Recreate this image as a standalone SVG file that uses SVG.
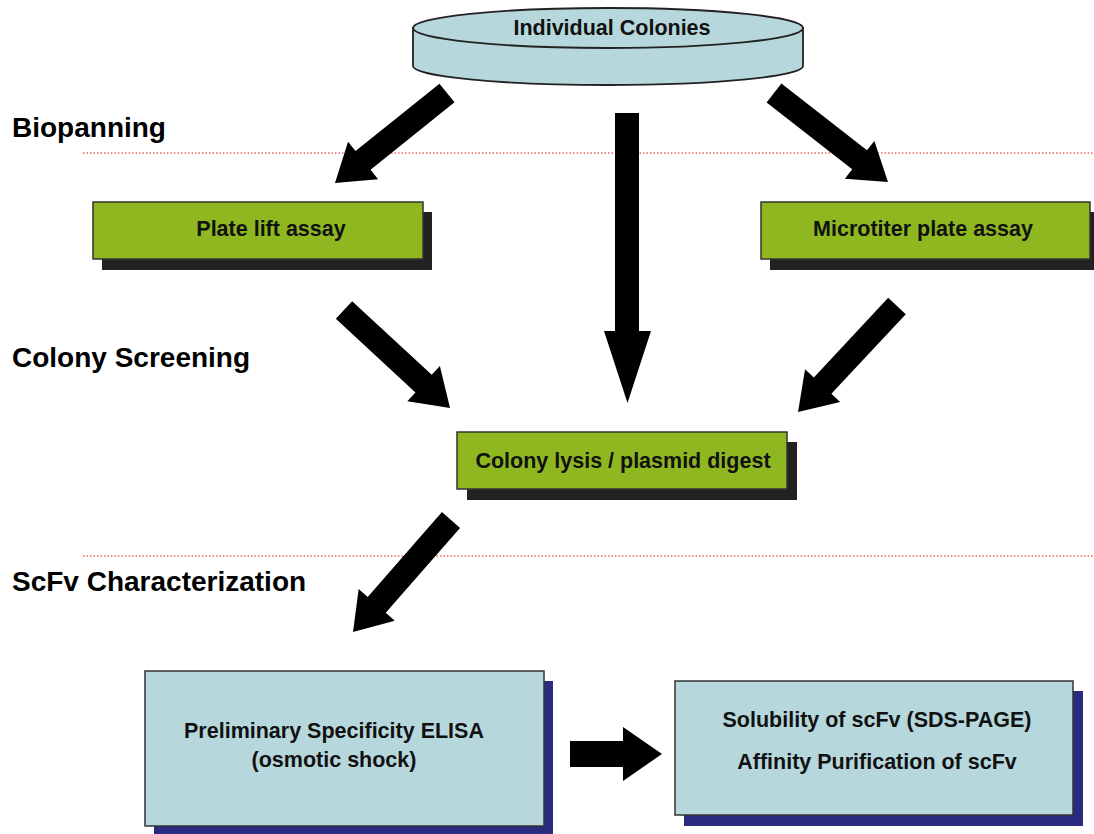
<svg xmlns="http://www.w3.org/2000/svg" width="1094" height="834" viewBox="0 0 1094 834">
<defs>
<style>
.lbl{font-family:"Liberation Sans",Arial,sans-serif;font-weight:bold;font-size:28px;fill:#000}
.nt{font-family:"Liberation Sans",Arial,sans-serif;font-weight:bold;font-size:21.5px;fill:#111;text-anchor:middle}
.green{fill:#8fb820;stroke:#333;stroke-width:1.5}
.gshadow{fill:#222}
.blue{fill:#b6d8dc;stroke:#333;stroke-width:1.5}
.bshadow{fill:#2a2a7e}
.sep{stroke:#e66;stroke-width:1.5;stroke-dasharray:1.5 2;fill:none}
.arrow{fill:#000}
</style>
</defs>
<rect width="1094" height="834" fill="#fff"/>
<g id="separators">
<line class="sep" x1="83" y1="153" x2="1094" y2="153"/>
<line class="sep" x1="83" y1="556" x2="1094" y2="556"/>
</g>
<g id="stage-labels">
<text class="lbl" x="12" y="137">Biopanning</text>
<text class="lbl" x="12" y="367">Colony Screening</text>
<text class="lbl" x="12" y="591">ScFv Characterization</text>
</g>
<g id="node-colonies">
<path d="M413,28 L413,66 A195,19 0 0 0 803,66 L803,28 Z" fill="#b6d8dc" stroke="#222" stroke-width="1.8"/>
<ellipse cx="608" cy="28" rx="195" ry="20" fill="#b6d8dc" stroke="#222" stroke-width="1.8"/>
<text class="nt" x="612" y="35">Individual Colonies</text>
</g>
<g id="node-platelift">
<rect class="gshadow" x="102" y="212" width="330" height="58"/>
<rect class="green" x="93" y="202" width="330" height="57"/>
<text class="nt" x="271" y="236">Plate lift assay</text>
</g>
<g id="node-microtiter">
<rect class="gshadow" x="770" y="212" width="330" height="58"/>
<rect class="green" x="761" y="202" width="329" height="57"/>
<text class="nt" x="923" y="236">Microtiter plate assay</text>
</g>
<g id="node-lysis">
<rect class="gshadow" x="467" y="442" width="330" height="58"/>
<rect class="green" x="457" y="432" width="330" height="57"/>
<text class="nt" x="623" y="468">Colony lysis / plasmid digest</text>
</g>
<g id="node-elisa">
<rect class="bshadow" x="154" y="681" width="399" height="153"/>
<rect class="blue" x="145" y="671" width="399" height="155"/>
<text class="nt" x="334" y="738">Preliminary Specificity ELISA</text>
<text class="nt" x="334" y="767">(osmotic shock)</text>
</g>
<g id="node-solubility">
<rect class="bshadow" x="684" y="691" width="399" height="135"/>
<rect class="blue" x="675" y="681" width="398" height="134"/>
<text class="nt" x="877" y="727">Solubility of scFv (SDS-PAGE)</text>
<text class="nt" x="877" y="769">Affinity Purification of scFv</text>
</g>
<g id="connectors">
<polygon class="arrow" transform="translate(447,93) rotate(141.21)" points="0,-12 107.7,-12 107.7,-24 143.7,0 107.7,24 107.7,12 0,12"/>
<polygon class="arrow" transform="translate(774,93) rotate(37.98)" points="0,-12 108.6,-12 108.6,-24 144.6,0 108.6,24 108.6,12 0,12"/>
<polygon class="arrow" points="615,113 639,113 639,331 651,331 627.5,403 604,331 615,331"/>
<polygon class="arrow" transform="translate(344,310) rotate(42.76)" points="0,-12 108.4,-12 108.4,-24 144.4,0 108.4,24 108.4,12 0,12"/>
<polygon class="arrow" transform="translate(897,306) rotate(133.04)" points="0,-12 109,-12 109,-24 145,0 109,24 109,12 0,12"/>
<polygon class="arrow" transform="translate(451,520) rotate(131.19)" points="0,-12 112.8,-12 112.8,-24 148.8,0 112.8,24 112.8,12 0,12"/>
<polygon class="arrow" points="570,741 623,741 623,727 662,754 623,781 623,767 570,767"/>
</g>
</svg>
